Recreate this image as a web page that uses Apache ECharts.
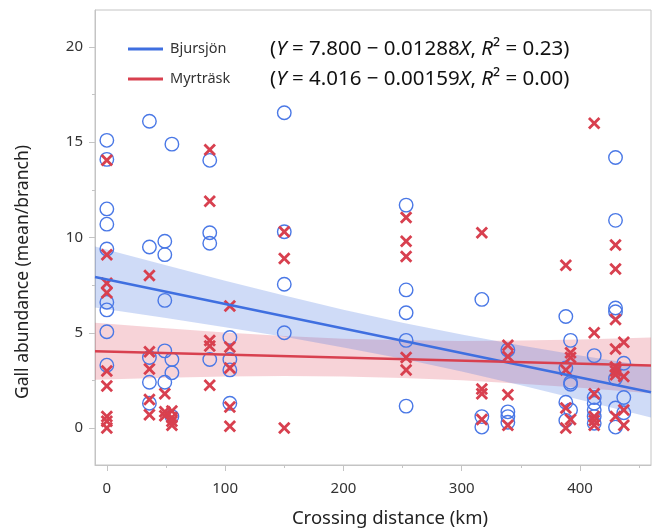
<!DOCTYPE html>
<html>
<head>
<meta charset="utf-8">
<script src="https://cdn.jsdelivr.net/npm/echarts@6/dist/echarts.min.js"></script>
<style>
  html, body { margin: 0; padding: 0; background: #fff; }
  #chart { width: 652px; height: 529px; }
</style>
</head>
<body>
<div id="chart"></div>
<script>
// Gall abundance versus crossing distance at two lakes

// Bjursjön observations (km, galls per branch)
const bjursjonDist = [
  0, 0, 0, 0, 0, 0, 0, 0, 0,
  36, 36, 36, 36, 36,
  49, 49, 49, 49, 49,
  55, 55, 55, 55,
  87, 87, 87, 87,
  104, 104, 104, 104,
  150, 150, 150, 150,
  253, 253, 253, 253, 253,
  317, 317, 317,
  339, 339, 339, 339,
  388, 388, 388, 388,
  392, 392, 392, 392,
  412, 412, 412, 412, 412, 412,
  430, 430, 430, 430, 430, 430, 430,
  437, 437, 437
];
const bjursjonGall = [
  15.1, 14.1, 11.5, 10.7, 9.4, 6.6, 6.2, 5.05, 3.3,
  16.1, 9.5, 3.7, 2.4, 1.3,
  9.8, 9.1, 6.7, 4.05, 2.4,
  14.9, 3.6, 2.9, 0.6,
  14.05, 10.25, 9.7, 3.6,
  4.75, 3.6, 3.05, 1.3,
  16.55, 10.3, 7.55, 5.0,
  11.7, 7.25, 6.05, 4.6, 1.15,
  6.75, 0.6, 0.05,
  4.1, 0.85, 0.6, 0.3,
  5.85, 3.15, 1.35, 0.4,
  4.6, 2.4, 2.3, 0.95,
  3.8, 1.6, 1.3, 0.95, 0.6, 0.25,
  14.2, 10.9, 6.3, 6.1, 2.6, 1.05, 0.05,
  3.4, 1.6, 0.8
];

// Myrträsk observations (km, galls per branch)
const myrtraskDist = [
  0, 0, 0, 0, 0, 0, 0, 0, 0,
  36, 36, 36, 36, 36,
  49, 49, 49,
  55, 55, 55, 55,
  87, 87, 87, 87, 87,
  104, 104, 104, 104, 104,
  150, 150, 150,
  253, 253, 253, 253, 253,
  317, 317, 317, 317,
  339, 339, 339, 339,
  388, 388, 388, 388,
  392, 392, 392,
  412, 412, 412, 412, 412, 412,
  430, 430, 430, 430, 430, 430, 430, 430,
  437, 437, 437, 437
];
const myrtraskGall = [
  14.05, 9.1, 7.6, 7.1, 3.0, 2.2, 0.6, 0.35, 0.0,
  8.0, 4.0, 3.1, 1.5, 0.7,
  1.8, 0.85, 0.65,
  0.9, 0.55, 0.35, 0.15,
  14.6, 11.9, 4.6, 4.3, 2.25,
  6.4, 4.25, 3.15, 1.1, 0.1,
  10.3, 8.9, 0.0,
  11.05, 9.8, 9.0, 3.7, 3.05,
  10.25, 2.05, 1.8, 0.45,
  4.35, 3.75, 1.75, 0.15,
  8.55, 3.05, 1.05, 0.0,
  3.95, 3.7, 0.45,
  16.0, 5.0, 1.8, 0.6, 0.4, 0.15,
  9.6, 8.35, 5.7, 4.15, 3.2, 3.0, 2.8, 0.6,
  4.5, 2.7, 0.95, 0.15
];

// Fitted regressions (intercept, slope, R²)
const bjursjonFit = { a: 7.800, b: -0.01288, r2: '0.23' };
const myrtraskFit = { a: 4.016, b: -0.00159, r2: '0.00' };

// 95% confidence band edges along the distance axis
const bandDist = [-10, 50, 100, 150, 200, 250, 300, 350, 400, 460];
const bjursjonUpper = [9.53, 8.54, 7.73, 6.95, 6.21, 5.53, 4.91, 4.33, 3.81, 3.23];
const bjursjonLower = [6.33, 5.78, 5.29, 4.79, 4.23, 3.63, 2.97, 2.25, 1.49, 0.55];
const myrtraskUpper = [5.53, 5.24, 5.02, 4.83, 4.69, 4.61, 4.57, 4.59, 4.65, 4.75];
const myrtraskLower = [2.53, 2.64, 2.70, 2.73, 2.71, 2.63, 2.51, 2.33, 2.11, 1.83];

// Axis ticks
const xMajorTicks = [0, 100, 200, 300, 400];
const xMinorTicks = [50, 150, 250, 350, 450];
const yMajorTicks = [0, 5, 10, 15, 20];
const yMinorTicks = [2.5, 7.5, 12.5, 17.5];

const X_MIN = -10, X_MAX = 460, Y_MIN = -1.94, Y_MAX = 21.94;

const BLUE = '#3f6fe0';
const BLUE_PT = '#4a78e6';
const RED = '#d8404f';
const FONT = '"Noto Sans", "Open Sans", sans-serif';
const AXIS_GRAY = '#c4c4c4';

// filled "x" glyph for the Myrträsk markers
const crossPath = 'path://M0,1.6L1.6,0L5,3.4L8.4,0L10,1.6L6.6,5L10,8.4L8.4,10L5,6.6L1.6,10L0,8.4L3.4,5Z';

function pairs(xs, ys) { return xs.map((x, i) => [x, ys[i]]); }
function fitLine(f) { return [[X_MIN, f.a + f.b * X_MIN], [X_MAX, f.a + f.b * X_MAX]]; }

function bandSeries(upper, lower, fill) {
  return {
    type: 'custom',
    silent: true,
    z: 1,
    xAxisIndex: 0,
    yAxisIndex: 0,
    data: [0],
    renderItem: function (params, api) {
      const pts = [];
      for (let i = 0; i < bandDist.length; i++) pts.push(api.coord([bandDist[i], upper[i]]));
      for (let i = bandDist.length - 1; i >= 0; i--) pts.push(api.coord([bandDist[i], lower[i]]));
      return { type: 'polygon', shape: { points: pts }, style: { fill: fill, stroke: null } };
    }
  };
}

function eq(f) {
  const slope = Math.abs(f.b).toFixed(5);
  return '({i|Y} = ' + f.a.toFixed(3) + ' \u2212 ' + slope + '{i|X}, {i|R}\u00b2 = ' + f.r2 + ')';
}

const chart = echarts.init(document.getElementById('chart'), null, { renderer: 'canvas' });

const tickLabelStyle = { fontFamily: FONT, fontSize: 15, color: '#333' };
const noZeroLine = (show) => ({ show: show, onZero: false, lineStyle: { color: AXIS_GRAY } });

chart.setOption({
  animation: false,
  backgroundColor: '#fff',
  grid: { left: 95, right: 1, top: 10, bottom: 64, show: true, borderColor: AXIS_GRAY, borderWidth: 1 },
  xAxis: [
    {
      type: 'value', min: X_MIN, max: X_MAX, position: 'bottom',
      axisLine: noZeroLine(true),
      axisTick: { show: true, customValues: xMajorTicks, length: 6, lineStyle: { color: AXIS_GRAY } },
      axisLabel: Object.assign({ customValues: xMajorTicks, margin: 16 }, tickLabelStyle),
      splitLine: { show: false }
    },
    {
      type: 'value', min: X_MIN, max: X_MAX, position: 'bottom',
      axisLine: noZeroLine(false),
      axisTick: { show: true, customValues: xMinorTicks, length: 3, lineStyle: { color: AXIS_GRAY } },
      axisLabel: { show: false },
      splitLine: { show: false }
    }
  ],
  yAxis: [
    {
      type: 'value', min: Y_MIN, max: Y_MAX, position: 'left',
      axisLine: noZeroLine(true),
      axisTick: { show: true, customValues: yMajorTicks, length: 6, lineStyle: { color: AXIS_GRAY } },
      axisLabel: Object.assign({ customValues: yMajorTicks, margin: 12 }, tickLabelStyle),
      splitLine: { show: false }
    },
    {
      type: 'value', min: Y_MIN, max: Y_MAX, position: 'left',
      axisLine: noZeroLine(false),
      axisTick: { show: true, customValues: yMinorTicks, length: 3, lineStyle: { color: AXIS_GRAY } },
      axisLabel: { show: false },
      splitLine: { show: false }
    }
  ],
  series: [
    bandSeries(myrtraskUpper, myrtraskLower, 'rgba(222, 70, 90, 0.24)'),
    bandSeries(bjursjonUpper, bjursjonLower, 'rgba(70, 115, 225, 0.26)'),
    {
      name: 'Bjursjön', type: 'scatter', z: 3,
      data: pairs(bjursjonDist, bjursjonGall),
      symbol: 'circle', symbolSize: 13.5,
      itemStyle: { color: 'rgba(255,255,255,0)', borderColor: BLUE_PT, borderWidth: 1.4, opacity: 1 }
    },
    {
      name: 'Myrträsk', type: 'scatter', z: 4,
      data: pairs(myrtraskDist, myrtraskGall),
      symbol: crossPath, symbolSize: 12.5,
      itemStyle: { color: RED, opacity: 1 }
    },
    {
      type: 'line', z: 5, data: fitLine(bjursjonFit), showSymbol: false, symbol: 'none',
      lineStyle: { color: BLUE, width: 2.5 }
    },
    {
      type: 'line', z: 5, data: fitLine(myrtraskFit), showSymbol: false, symbol: 'none',
      lineStyle: { color: RED, width: 2.5 }
    }
  ],
  graphic: [
    // legend keys
    { type: 'line', shape: { x1: 128, y1: 49, x2: 163, y2: 49 }, style: { stroke: BLUE, lineWidth: 3 }, z: 10 },
    { type: 'line', shape: { x1: 128, y1: 79, x2: 163, y2: 79 }, style: { stroke: RED, lineWidth: 3 }, z: 10 },
    { type: 'text', x: 170, y: 49, z: 10,
      style: { text: 'Bjursjön', fontFamily: FONT, fontSize: 14.5, fill: '#333', verticalAlign: 'middle' } },
    { type: 'text', x: 170, y: 79, z: 10,
      style: { text: 'Myrträsk', fontFamily: FONT, fontSize: 14.5, fill: '#333', verticalAlign: 'middle' } },
    { type: 'text', x: 270, y: 49, z: 10,
      style: { text: eq(bjursjonFit), fontFamily: FONT, fontSize: 20.5, fill: '#111', verticalAlign: 'middle',
               rich: { i: { fontFamily: FONT, fontSize: 20.5, fontStyle: 'italic', fill: '#111' } } } },
    { type: 'text', x: 270, y: 79, z: 10,
      style: { text: eq(myrtraskFit), fontFamily: FONT, fontSize: 20.5, fill: '#111', verticalAlign: 'middle',
               rich: { i: { fontFamily: FONT, fontSize: 20.5, fontStyle: 'italic', fill: '#111' } } } },
    // axis titles
    { type: 'text', x: 390, y: 519, z: 10,
      style: { text: 'Crossing distance (km)', fontFamily: FONT, fontSize: 18.5, fill: '#222', align: 'center', verticalAlign: 'middle' } },
    { type: 'text', x: 23, y: 272, rotation: Math.PI / 2, z: 10,
      style: { text: 'Gall abundance (mean/branch)', fontFamily: FONT, fontSize: 17.5, fill: '#222', align: 'center', verticalAlign: 'middle' } }
  ]
});
</script>
</body>
</html>
